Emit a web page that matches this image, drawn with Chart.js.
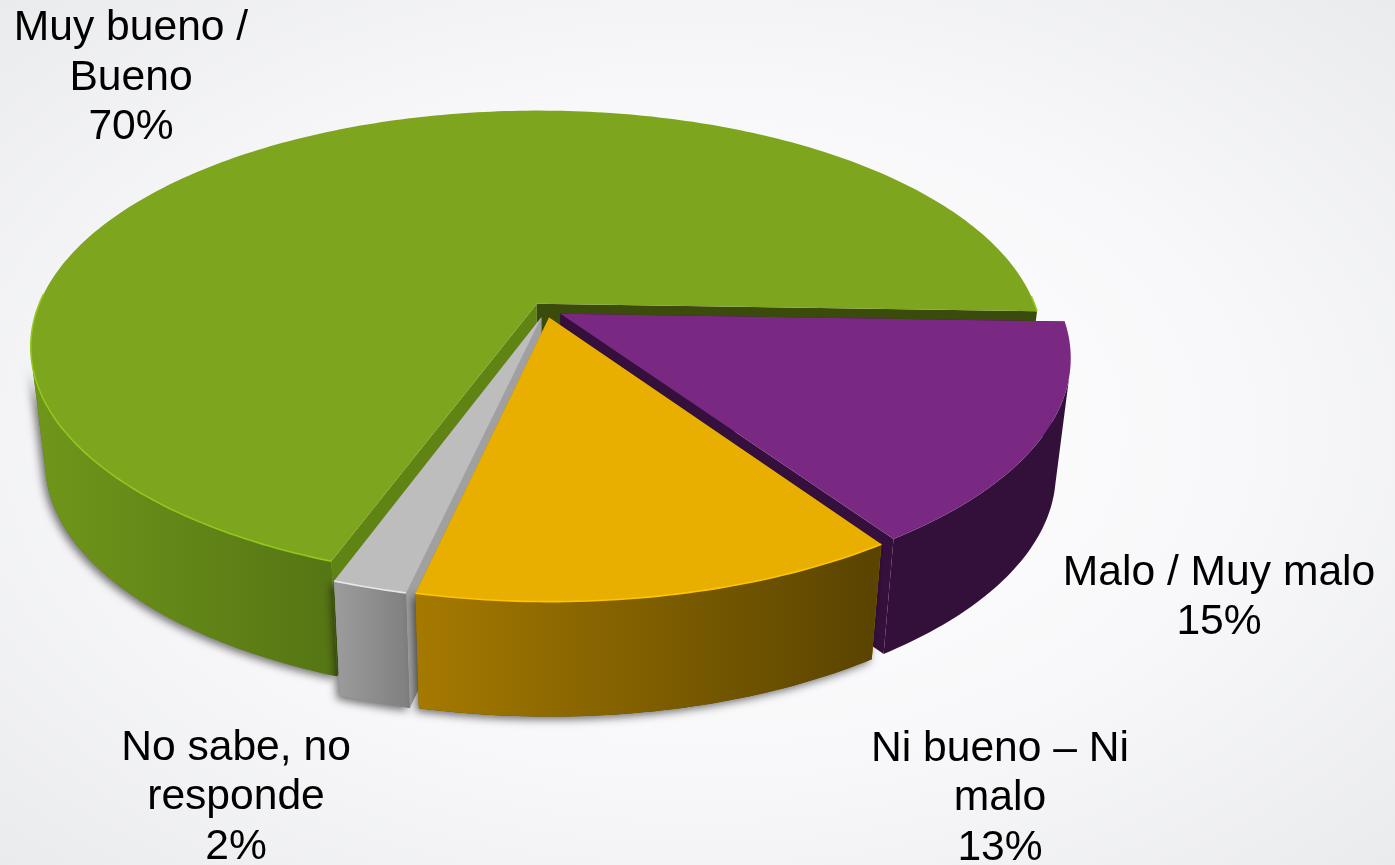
<!DOCTYPE html>
<html>
<head>
<meta charset="utf-8">
<script src="https://cdn.jsdelivr.net/npm/chart.js@4"></script>
<style>
html,body{margin:0;padding:0;width:1395px;height:865px;overflow:hidden;
background:radial-gradient(ellipse farthest-corner at 50% 50%,#ffffff 0%,#f8f8fa 55%,#eaebed 100%);}
canvas{display:block}
</style>
</head>
<body>
<canvas id="c" width="1395" height="865"></canvas>
<script>
const categories = ['Muy bueno /\nBueno', 'Malo / Muy malo', 'Ni bueno – Ni\nmalo', 'No sabe, no\nresponde'];
const values = [70, 15, 13, 2];
const topColors = ['#7da51e', '#7a2983', '#e9af00', '#bdbdbd'];
const rimColors = ['#93c81e', '#7a2983', '#ffc600', '#e8e8e8'];
const wallStart = ['#6f961a', '#321039', '#a67a00', '#9a9a9a'];
const wallEnd = ['#557414', '#321039', '#5a4400', '#7f7f7f'];
const wallFromX = [40, 880, 415, 340];
const wallToX = [340, 1060, 870, 410];
const cutStart = ['#5f8414', '#35103c', '#a67a00', '#a0a0a0'];
const cutEnd = ['#3a4b0c', '#35103c', '#a67a00', '#a0a0a0'];
const paintOrder = [0, 1, 3, 2];
const labelCenter = [[131, 28.5], [1219, 573], [1000, 749], [236, 748]];

const view = {cx: 546, cy: 310, rx: 500, ry: 230, k: 0.18,
  depth: 115, shrink: 0.972, shrinkX: 540, silhouette: 0.22};

function project(u, v) {
  const w = 1 - view.k * v;
  return [view.cx + view.rx * u / w, view.cy + view.ry * v / w];
}
function lower(p) {
  return [view.shrinkX + view.shrink * (p[0] - view.shrinkX), p[1] + view.depth];
}
function poly(ctx, pts) {
  ctx.beginPath();
  pts.forEach((p, i) => i ? ctx.lineTo(p[0], p[1]) : ctx.moveTo(p[0], p[1]));
  ctx.closePath();
}

const pie3d = {
  id: 'pie3d',
  beforeDatasetDraw(chart, args) {
    const ctx = chart.ctx;
    const arcs = chart.getDatasetMeta(args.index).data;
    paintOrder.forEach(i => {
      const a = arcs[i];
      const R = a.outerRadius;
      const off = (a.options.offset || 0) / R;
      const mid = (a.startAngle + a.endAngle) / 2;
      const ox = Math.cos(mid) * off, oy = Math.sin(mid) * off;
      const apex = project(ox, oy);
      const steps = Math.max(12, Math.round((a.endAngle - a.startAngle) * 60));
      const angle = s => a.startAngle + (a.endAngle - a.startAngle) * s / steps;
      const rim = [];
      for (let s = 0; s <= steps; s++) {
        rim.push(project(ox + Math.cos(angle(s)), oy + Math.sin(angle(s))));
      }
      const low = rim.map(lower);
      const apexLow = lower(apex);
      const near = [];
      for (let s = 0; s <= steps; s++) {
        if (Math.sin(angle(s)) > view.silhouette) near.push(s);
      }
      const wallPts = [...near.map(s => rim[s]), ...near.slice().reverse().map(s => low[s])];

      // contact shadow from the base
      if (i !== 1) {
        ctx.save();
        ctx.shadowColor = 'rgba(0,0,0,0.55)';
        ctx.shadowBlur = 9;
        ctx.shadowOffsetX = -3;
        ctx.shadowOffsetY = 3;
        ctx.fillStyle = wallEnd[i];
        poly(ctx, wallPts);
        ctx.fill();
        ctx.restore();
      }
      // cut faces
      ctx.fillStyle = cutStart[i];
      poly(ctx, [apex, rim[0], low[0], apexLow]);
      ctx.fill();
      ctx.fillStyle = cutEnd[i];
      poly(ctx, [apex, rim[steps], low[steps], apexLow]);
      ctx.fill();
      // outer wall
      const g = ctx.createLinearGradient(wallFromX[i], 0, wallToX[i], 0);
      g.addColorStop(0, wallStart[i]);
      g.addColorStop(1, wallEnd[i]);
      ctx.fillStyle = g;
      poly(ctx, wallPts);
      ctx.fill();
      // top face
      ctx.fillStyle = topColors[i];
      poly(ctx, [apex, ...rim]);
      ctx.fill();
      // rim highlight on the near edge
      ctx.strokeStyle = rimColors[i];
      ctx.lineWidth = 1.6;
      ctx.beginPath();
      let pen = false;
      rim.forEach((p, s) => {
        const front = Math.sin(angle(s)) > -0.05 && i !== 1;
        if (front) { pen ? ctx.lineTo(p[0], p[1]) : ctx.moveTo(p[0], p[1]); pen = true; }
        else pen = false;
      });
      ctx.stroke();
    });
    return false;
  },
  afterDraw(chart) {
    const ctx = chart.ctx;
    ctx.save();
    ctx.font = '42.6px "Liberation Sans", Arial, sans-serif';
    ctx.fillStyle = '#000000';
    ctx.textAlign = 'center';
    ctx.textBaseline = 'middle';
    categories.forEach((cat, i) => {
      const lines = cat.split('\n').concat([values[i] + '%']);
      lines.forEach((line, n) => {
        ctx.fillText(line, labelCenter[i][0], labelCenter[i][1] + n * 49.6);
      });
    });
    ctx.restore();
  }
};

new Chart(document.getElementById('c'), {
  type: 'pie',
  data: {
    labels: categories,
    datasets: [{
      data: values,
      backgroundColor: topColors,
      borderWidth: 0,
      offset: 14
    }]
  },
  options: {
    responsive: false,
    animation: false,
    rotation: 199.9,
    layout: {padding: 0},
    plugins: {legend: {display: false}, tooltip: {enabled: false}}
  },
  plugins: [pie3d]
});
</script>
</body>
</html>
